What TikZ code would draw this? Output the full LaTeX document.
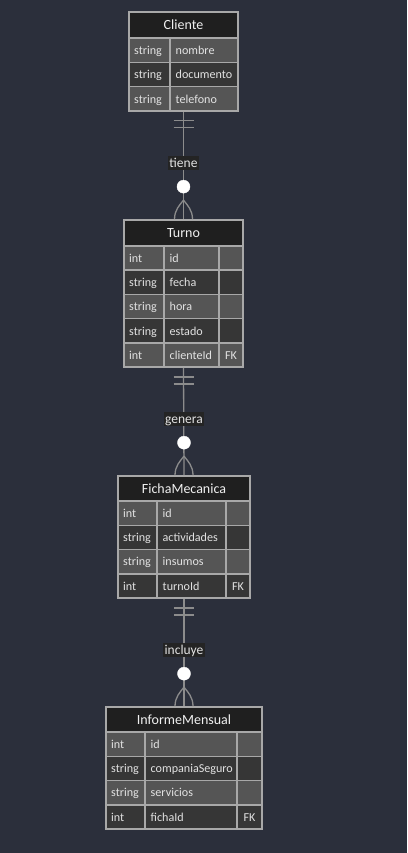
\documentclass[tikz,border=0pt]{standalone}
\usepackage{fontspec}
\setmainfont{Carlito}
\usetikzlibrary{calc}
\definecolor{bg}{HTML}{2B2F3B}
\definecolor{hdrfill}{HTML}{1F1F1F}
\definecolor{rowlight}{HTML}{555555}
\definecolor{rowdark}{HTML}{363636}
\definecolor{gridcol}{HTML}{A8A8A8}
\definecolor{relcol}{HTML}{8C8C8C}
\definecolor{lblbg}{HTML}{242424}
\definecolor{txtcol}{HTML}{E2E2E2}
\definecolor{hdrtxt}{HTML}{F0F0F0}

\tikzset{
  celltxt/.style={anchor=base west, inner sep=0pt, text=txtcol, font=\fontsize{12.1}{14}\selectfont},
  keytxt/.style={anchor=base, inner sep=0pt, text=txtcol, font=\fontsize{12.1}{14}\selectfont},
  hdrlabel/.style={anchor=base, inner sep=0pt, text=hdrtxt, font=\fontsize{14}{16}\selectfont},
  gridline/.style={draw=gridcol, line width=1.5pt},
  tablebox/.style={draw=gridcol, line width=1.7pt, inner sep=0pt, rectangle},
  rel/.style={draw=relcol, line width=1.3pt},
  rellabel/.style={fill=lblbg, text=txtcol, inner xsep=1.5pt, inner ysep=1.5pt,
    text height=9.5pt, text depth=1pt, font=\fontsize{13.5}{15}\selectfont},
  zerocircle/.style={circle, fill=white, draw=white, minimum size=13pt, inner sep=0pt}
}

% name, x1, split1, split2, x2, ytop, yheader, rowheight, title
\newcommand\ertable[9]{%
  \def\en{#1}\def\xa{#2}\def\xs{#3}\def\xt{#4}\def\xb{#5}%
  \def\ytop{#6}\def\yh{#7}\def\rh{#8}\def\ttl{#9}}
% number of rows, list type/name/key
\newcommand\errows[2]{%
  \pgfmathsetmacro\ybot{\yh+#1*\rh}%
  \fill[hdrfill] (\xa,\ytop) rectangle (\xb,\yh);
  \node[hdrlabel] (\en-h) at ({(\xa+\xb)/2},{(\ytop+\yh)/2+4.8}) {\ttl};
  \foreach \ty/\nm/\ky [count=\k from 0] in {#2} {
    \pgfmathsetmacro\ya{\yh+\k*\rh}
    \pgfmathsetmacro\yb{\ya+\rh}
    \pgfmathsetmacro\yt{(\ya+\yb)/2+4.3}
    \ifodd\k\def\rc{rowdark}\else\def\rc{rowlight}\fi
    \fill[fill=\rc] (\xa,\ya) rectangle (\xb,\yb);
    \node[celltxt] (\en-t\k) at (\xa+5,\yt) {\ty};
    \node[celltxt] (\en-n\k) at (\xs+5.5,\yt) {\nm};
    \ifx\xt\empty\else
      \node[keytxt] (\en-k\k) at ({(\xt+\xb)/2},\yt) {\ky};
    \fi
    \draw[gridline] (\xa,\ya) -- (\xb,\ya);
  }
  \draw[gridline] (\xs,\yh) -- (\xs,\ybot);
  \ifx\xt\empty\else\draw[gridline] (\xt,\yh) -- (\xt,\ybot);\fi
  \pgfmathsetmacro\tw{\xb-\xa}%
  \pgfmathsetmacro\th{\ybot-\ytop}%
  \node[tablebox, minimum width=\tw pt, minimum height=\th pt]
    (\en) at ({(\xa+\xb)/2},{(\ytop+\ybot)/2}) {};
}

% relationship: from (#1) one-only, to (#2) zero-or-many, label node name #3, text #4
\newcommand\errel[4]{%
  \draw[rel] (#1.south) -- (#2.north);
  \draw[rel] ([xshift=-10pt,yshift=-9pt]#1.south) -- ([xshift=10pt,yshift=-9pt]#1.south);
  \draw[rel] ([xshift=-10pt,yshift=-16pt]#1.south) -- ([xshift=10pt,yshift=-16pt]#1.south);
  \draw[rel] ([xshift=-9pt]#2.north) .. controls ([xshift=-9pt,yshift=9pt]#2.north) and ([xshift=-4pt,yshift=14pt]#2.north) .. ([yshift=19pt]#2.north);
  \draw[rel] ([xshift=9pt]#2.north) .. controls ([xshift=9pt,yshift=9pt]#2.north) and ([xshift=4pt,yshift=14pt]#2.north) .. ([yshift=19pt]#2.north);
  \node[zerocircle] (#3-c) at ([yshift=32.5pt]#2.north) {};
  \node[rellabel] (#3) at ([yshift=56pt]#2.north) {#4};
}

\begin{document}
\begin{tikzpicture}[x=1pt,y=-1pt]
\fill[bg] (0,0) rectangle (407,853);
\useasboundingbox (0,0) rectangle (407,853);

\ertable{cliente}{129}{170}{}{238}{12}{38}{24.33}{Cliente}
\errows{3}{string/nombre/, string/documento/, string/telefono/}

\ertable{turno}{124}{164}{219}{243}{220}{246}{24.2}{Turno}
\errows{5}{int/id/, string/fecha/, string/hora/, string/estado/, int/clienteId/FK}

\ertable{ficha}{118}{157}{226}{250}{476}{501}{24.25}{FichaMecanica}
\errows{4}{int/id/, string/actividades/, string/insumos/, int/turnoId/FK}

\ertable{informe}{106}{145}{237}{262}{707}{732}{24.25}{InformeMensual}
\errows{4}{int/id/, string/companiaSeguro/, string/servicios/, int/fichaId/FK}

\errel{cliente}{turno}{tiene}{tiene}
\errel{turno}{ficha}{genera}{genera}
\errel{ficha}{informe}{incluye}{incluye}
\end{tikzpicture}
\end{document}
